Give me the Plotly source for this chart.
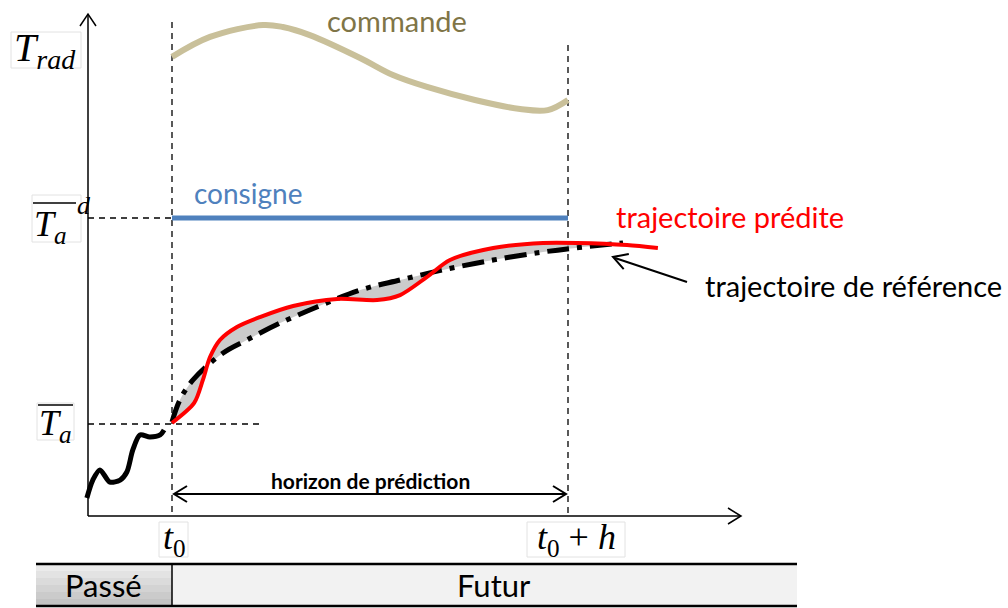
import numpy as np
import plotly.graph_objects as go

# Units: time axis with t0 = 0 and t0 + h = 1; temperature axis with Ta = 0 and Ta^d = 1
past_t = [-0.215, -0.200, -0.182, -0.157, -0.131, -0.114, -0.099, -0.081, -0.056, -0.030, -0.020]
past_T = [-0.359, -0.272, -0.223, -0.282, -0.272, -0.233, -0.126, -0.053, -0.063, -0.053, -0.029]

ref_t = [0.000, 0.020, 0.053, 0.129, 0.189, 0.273, 0.366, 0.475, 0.576, 0.684, 0.811, 0.937, 1.038, 1.139]
ref_T = [0.010, 0.117, 0.214, 0.345, 0.408, 0.490, 0.568, 0.650, 0.699, 0.748, 0.796, 0.835, 0.859, 0.879]

pred_t = [0.000, 0.056, 0.078, 0.096, 0.121, 0.164, 0.222, 0.306, 0.417, 0.518, 0.576, 0.644, 0.702, 0.811, 0.937, 1.023, 1.149, 1.227]
pred_T = [0.005, 0.102, 0.214, 0.325, 0.408, 0.471, 0.519, 0.573, 0.607, 0.602, 0.626, 0.714, 0.796, 0.854, 0.879, 0.879, 0.869, 0.854]

cmd_t = [0.000, 0.096, 0.230, 0.280, 0.348, 0.475, 0.558, 0.644, 0.765, 0.879, 0.949, 1.000]
cmd_T = [1.782, 1.879, 1.937, 1.927, 1.888, 1.777, 1.694, 1.636, 1.573, 1.529, 1.524, 1.573]

setpoint_t = [0.0, 1.0]
setpoint_T = [1.0, 1.0]

# page geometry: pixel -> axis units
W, H = 1008, 608
T0_PX, H_PX = 172, 396
TA_PX, U_PX = 424, 206


def X(px):
    return (px - T0_PX) / H_PX


def Y(py):
    return (TA_PX - py) / U_PX


fig = go.Figure()

# grey band between predicted and reference trajectories
pt = np.array(pred_t)
pv = np.array(pred_T)
keep = pt <= 1.15
fig.add_trace(go.Scatter(x=ref_t, y=ref_T, mode="lines", line=dict(width=0, shape="spline"),
                         hoverinfo="skip", showlegend=False))
fig.add_trace(go.Scatter(x=pt[keep], y=pv[keep], mode="lines",
                         line=dict(width=0, shape="spline", smoothing=0.8),
                         fill="tonexty", fillcolor="rgba(190,190,190,0.8)",
                         hoverinfo="skip", showlegend=False))

# command
fig.add_trace(go.Scatter(x=cmd_t, y=cmd_T, mode="lines",
                         line=dict(color="#C9C09A", width=6, shape="spline", smoothing=1.0),
                         showlegend=False))
# set point
fig.add_trace(go.Scatter(x=setpoint_t, y=setpoint_T, mode="lines",
                         line=dict(color="#4F81BD", width=5), showlegend=False))
# past measurements
fig.add_trace(go.Scatter(x=past_t, y=past_T, mode="lines",
                         line=dict(color="black", width=5, shape="spline", smoothing=0.8),
                         showlegend=False))
# reference trajectory
fig.add_trace(go.Scatter(x=ref_t, y=ref_T, mode="lines",
                         line=dict(color="black", width=5, shape="spline", smoothing=1.0,
                                   dash="22px,8px,5px,8px"),
                         showlegend=False))
# predicted trajectory
fig.add_trace(go.Scatter(x=pred_t, y=pred_T, mode="lines",
                         line=dict(color="#FF0000", width=4, shape="spline", smoothing=0.8),
                         showlegend=False))

shapes = []


def seg(x0, y0, x1, y1, color="black", width=1.5, dash=None):
    shapes.append(dict(type="line", xref="x", yref="y", x0=X(x0), y0=Y(y0), x1=X(x1), y1=Y(y1),
                       line=dict(color=color, width=width, dash=dash), layer="below"))


def chevron(tip, back, half=8, length=14, width=1.5):
    tx, ty = tip
    d = np.array([tx - back[0], ty - back[1]], float)
    d /= np.hypot(*d)
    n = np.array([-d[1], d[0]])
    a = np.array(tip) - d * length + n * half
    b = np.array(tip) - d * length - n * half
    path = f"M {X(a[0])},{Y(a[1])} L {X(tx)},{Y(ty)} L {X(b[0])},{Y(b[1])}"
    shapes.append(dict(type="path", xref="x", yref="y", path=path,
                       line=dict(color="black", width=width)))


def box(x0, y0, x1, y1, line="#E2E2E2", fill=None, width=1):
    shapes.append(dict(type="rect", xref="x", yref="y", x0=X(x0), y0=Y(y0), x1=X(x1), y1=Y(y1),
                       line=dict(color=line, width=width), fillcolor=fill, layer="below"))


# axes
seg(88, 516, 88, 15)
chevron((88, 14), (88, 100), half=8, length=12)
seg(88, 516, 740, 516)
chevron((741, 516), (600, 516), half=8, length=13)

# reference lines
seg(172, 22, 172, 516, width=1.3, dash="6px,5px")
seg(568, 45, 568, 516, width=1.3, dash="6px,5px")
seg(88, 218, 172, 218, width=1.3, dash="6px,5px")
seg(88, 424, 262, 424, width=1.3, dash="6px,5px")

# prediction horizon
seg(174, 494, 566, 494, width=1.8)
chevron((174, 494), (300, 494), half=8, length=13, width=2)
chevron((566, 494), (400, 494), half=8, length=13, width=2)

# pointer to reference trajectory
seg(687, 282, 615, 258, width=2)
chevron((613, 257), (687, 282), half=8, length=14, width=2)

# label frames
box(11, 32, 81, 68)
box(32, 195, 81, 242)
box(37, 403, 74, 440)
box(159, 522, 188, 557)
box(527, 522, 625, 557)

# overlines
seg(33, 203, 76, 203, width=1.3)
seg(38, 405, 73, 405, width=1.3)

# time line bar
box(172, 564, 797, 606, line="rgba(0,0,0,0)", fill="#F2F2F2")
greys = ["#EBEBEB", "#E3E3E3", "#DBDBDB", "#D3D3D3", "#CBCBCB", "#C3C3C3"]
step = 42 / len(greys)
for i, g in enumerate(greys):
    box(36, 564 + i * step, 172, 564 + (i + 1) * step + 0.5, line="rgba(0,0,0,0)", fill=g)
seg(36, 564, 797, 564, width=2.5)
seg(36, 606, 797, 606, width=2.5)
seg(172, 564, 172, 606, width=1.5)

annotations = []
SANS = "Lato"
SERIF = "Liberation Serif"


def label(xp, yp, text, size, color="black", family=SANS, xanchor="center", yanchor="middle"):
    annotations.append(dict(x=X(xp), y=Y(yp), xref="x", yref="y", text=text, showarrow=False,
                            xanchor=xanchor, yanchor=yanchor,
                            font=dict(family=family, size=size, color=color)))


label(397, 20, "commande", 29, color="#7F7547")
label(248, 193, "consigne", 28, color="#4F81BD")
label(730, 216, "trajectoire prédite", 29, color="#FF0000")
label(853, 285, "trajectoire de référence", 29)
label(370, 480, "<b>horizon de prédiction</b>", 21)
label(103, 585, "Passé", 31)
label(494, 585, "Futur", 31)

# math labels
label(12, 50, "<i>T</i><sub><i>rad</i></sub>", 40, family=SERIF, xanchor="left")
label(32, 226, "<i>T</i><sub><i>a</i></sub>", 36, family=SERIF, xanchor="left")
label(75, 205, "<i>d</i>", 26, family=SERIF, xanchor="left")
label(37, 425, "<i>T</i><sub><i>a</i></sub>", 36, family=SERIF, xanchor="left")
label(174, 539, "<i>t</i><sub>0</sub>", 36, family=SERIF)
label(576, 539, "<i>t</i><sub>0</sub> + <i>h</i>", 36, family=SERIF)

fig.update_layout(
    width=W, height=H,
    margin=dict(l=0, r=0, t=0, b=0),
    paper_bgcolor="white", plot_bgcolor="white",
    xaxis=dict(range=[X(0), X(W)], visible=False, fixedrange=True),
    yaxis=dict(range=[Y(H), Y(0)], visible=False, fixedrange=True),
    shapes=shapes, annotations=annotations, showlegend=False,
)

fig.write_html("out.html")
